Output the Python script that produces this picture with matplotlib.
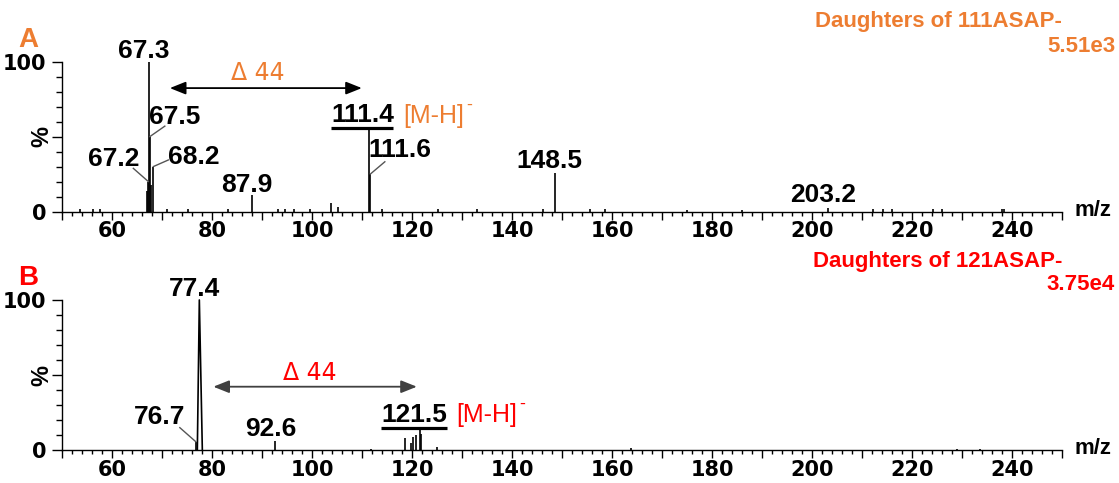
import matplotlib
matplotlib.use("Agg")
import matplotlib.pyplot as plt
from matplotlib.ticker import MultipleLocator, FixedLocator, FuncFormatter

# ---- spectrum A: daughters of m/z 111 ----
mz_a = [53.5, 56.1, 57.5, 67.0, 67.2, 67.3, 67.5, 67.7, 68.2, 71.0, 75.1, 83.2,
        87.9, 93.2, 94.5, 96.3, 99.5, 103.7, 105.1, 111.4, 111.6, 113.9, 125.1,
        132.9, 146.2, 148.5, 155.5, 158.5, 175.0, 186.0, 203.2, 212.1, 214.1,
        216.0, 224.1, 226.0, 237.9, 238.3]
int_a = [1.5, 2.0, 1.5, 14.0, 20.0, 100.0, 50.0, 18.0, 30.0, 2.0, 2.0, 2.0,
         11.0, 1.5, 2.0, 2.0, 1.5, 5.6, 3.0, 56.0, 25.0, 2.0, 1.5,
         1.5, 2.0, 26.0, 1.5, 2.0, 1.0, 1.0, 2.5, 2.0, 1.5,
         2.0, 1.5, 2.0, 2.0, 1.5]

# ---- spectrum B: daughters of m/z 121 ----
mz_b = [76.7, 92.6, 111.7, 118.5, 119.7, 120.1, 120.7, 121.5, 121.8, 125.0,
        163.7, 229.0, 233.5]
int_b = [5.5, 6.0, 1.0, 8.0, 5.0, 9.0, 10.0, 15.0, 11.0, 2.0, 1.5, 1.0, 0.8]
# profile of the base peak at m/z 77.4
base_mz_b = [77.0, 77.4, 78.0]
base_int_b = [0.0, 100.0, 0.0]

ORANGE = "#ED7D31"
RED = "#FF0000"
LEADER = "#555555"
BOLD = "Liberation Sans"
TICKFONT = "DejaVu Sans"

fig = plt.figure(figsize=(11.19, 4.83), dpi=100)
ax_a = fig.add_axes([0.0557, 0.5621, 0.8937, 0.3101])
ax_b = fig.add_axes([0.0557, 0.0683, 0.8937, 0.3106])


def style_axes(ax):
    ax.set_xlim(50, 250)
    ax.set_ylim(0, 100)
    for side in ("top", "right"):
        ax.spines[side].set_visible(False)
    for side in ("left", "bottom"):
        ax.spines[side].set_linewidth(1.0)
    ax.xaxis.set_major_locator(MultipleLocator(10))
    ax.xaxis.set_minor_locator(MultipleLocator(2))
    ax.xaxis.set_major_formatter(
        FuncFormatter(lambda v, p: f"{v:.0f}" if round(v) % 20 == 0 and 60 <= v <= 240 else ""))
    ax.yaxis.set_major_locator(FixedLocator([0, 50, 100]))
    ax.yaxis.set_minor_locator(MultipleLocator(10))
    ax.yaxis.set_major_formatter(FuncFormatter(lambda v, p: "" if v == 50 else f"{v:.0f}"))
    ax.tick_params(axis="x", which="major", direction="out", length=6, width=1.0, pad=1)
    ax.tick_params(axis="x", which="minor", direction="out", length=3, width=1.0)
    ax.tick_params(axis="y", which="major", direction="out", length=7.5, width=1.0, pad=4)
    ax.tick_params(axis="y", which="minor", direction="out", length=4, width=1.0)
    for lab in ax.get_xticklabels() + ax.get_yticklabels():
        lab.set_fontfamily(TICKFONT)
        lab.set_fontweight("bold")
        lab.set_fontsize(15)
    ax.text(-0.0206, 0.5, "%", transform=ax.transAxes, rotation=90, ha="center",
            va="center", fontsize=17, fontweight="bold", family=BOLD)
    ax.text(1.0125, 0.01, "m/z", transform=ax.transAxes, ha="left", va="center",
            fontsize=16, fontweight="bold", family=BOLD)


def sticks(ax, mz, inten, lw=1.2):
    ax.vlines(mz, 0, inten, colors="black", linewidth=lw, clip_on=False)


def peak_label(ax, mz, inten, text, xt, yt, leader=None):
    ax.text(xt, yt, text, ha="center", va="baseline", fontsize=19,
            fontweight="bold", family=BOLD, clip_on=False)
    if leader is not None:
        ax.plot([leader[0], mz], [leader[1], inten], color=LEADER, lw=1.0,
                clip_on=False)


def underline(ax, x0, x1, y):
    ax.plot([x0, x1], [y, y], color="black", lw=2.3, solid_capstyle="butt",
            clip_on=False)


def delta_arrow(ax, x0, x1, y, color):
    ax.annotate("", xy=(x1, y), xytext=(x0, y),
                arrowprops=dict(arrowstyle="<|-|>,head_length=0.8,head_width=0.32",
                                mutation_scale=12, lw=1.3, color=color,
                                shrinkA=0, shrinkB=0), annotation_clip=False)


def ion_label(ax, x, y, color):
    t = ax.text(x, y, "[M-H]", ha="left", va="baseline", fontsize=18,
                color=color, family=BOLD, clip_on=False)
    ax.annotate("-", xy=(1, 1), xycoords=t, xytext=(2, -1),
                textcoords="offset points", ha="left", va="center",
                fontsize=13, color=color, family=BOLD, annotation_clip=False)


style_axes(ax_a)
style_axes(ax_b)

# ---------------- panel A ----------------
sticks(ax_a, mz_a, int_a)
pa = dict(zip(mz_a, int_a))
peak_label(ax_a, 67.3, pa[67.3], "67.3", 66.3, 102.5)
peak_label(ax_a, 67.5, pa[67.5], "67.5", 72.5, 58.4, leader=(70.5, 57.0))
peak_label(ax_a, 67.2, pa[67.2], "67.2", 60.2, 30.6, leader=(64.2, 28.8))
peak_label(ax_a, 68.2, pa[68.2], "68.2", 76.2, 31.7, leader=(71.2, 34.4))
peak_label(ax_a, 87.9, pa[87.9], "87.9", 86.9, 13.0)
peak_label(ax_a, 111.4, pa[111.4], "111.4", 110.0, 59.6)
underline(ax_a, 103.7, 116.1, pa[111.4])
peak_label(ax_a, 111.6, pa[111.6], "111.6", 117.5, 36.2, leader=(114.5, 33.2))
peak_label(ax_a, 148.5, pa[148.5], "148.5", 147.5, 29.0)
peak_label(ax_a, 203.2, pa[203.2], "203.2", 202.2, 6.4)

ion_label(ax_a, 118.1, 59.2, ORANGE)
delta_arrow(ax_a, 71.5, 109.9, 82.4, "black")
ax_a.text(89.1, 87.8, "Δ 44", ha="center", va="baseline", fontsize=17,
          color=ORANGE, family=TICKFONT, clip_on=False)
ax_a.text(43.1, 110.0, "A", ha="center", va="baseline", fontsize=20,
          fontweight="bold", color=ORANGE, family=BOLD, clip_on=False)

# ---------------- panel B ----------------
sticks(ax_b, mz_b, int_b)
ax_b.plot(base_mz_b, base_int_b, color="black", lw=1.2, clip_on=False)
pb = dict(zip(mz_b, int_b))
peak_label(ax_b, base_mz_b[1], max(base_int_b), "77.4", 76.5, 102.7)
peak_label(ax_b, 76.7, pb[76.7], "76.7", 69.5, 17.1, leader=(73.5, 14.9))
peak_label(ax_b, 92.6, pb[92.6], "92.6", 91.7, 9.3)
peak_label(ax_b, 121.5, pb[121.5], "121.5", 120.3, 18.9)
underline(ax_b, 113.7, 126.9, pb[121.5])

ion_label(ax_b, 128.7, 18.6, RED)
delta_arrow(ax_b, 80.2, 120.9, 42.2, "#404040")
ax_b.text(99.5, 46.9, "Δ 44", ha="center", va="baseline", fontsize=17,
          color=RED, family=TICKFONT, clip_on=False)
ax_b.text(43.1, 110.0, "B", ha="center", va="baseline", fontsize=20,
          fontweight="bold", color=RED, family=BOLD, clip_on=False)

# ---------------- titles ----------------
fig.text(0.949, 0.9545, "Daughters of 111ASAP-", ha="right", va="center",
         fontsize=16, fontweight="bold", color=ORANGE, family=BOLD)
fig.text(0.9964, 0.9027, "5.51e3", ha="right", va="center",
         fontsize=16, fontweight="bold", color=ORANGE, family=BOLD)
fig.text(0.949, 0.4582, "Daughters of 121ASAP-", ha="right", va="center",
         fontsize=16, fontweight="bold", color=RED, family=BOLD)
fig.text(0.9964, 0.410, "3.75e4", ha="right", va="center",
         fontsize=16, fontweight="bold", color=RED, family=BOLD)

fig.savefig("out.png", dpi=100, facecolor="white")
